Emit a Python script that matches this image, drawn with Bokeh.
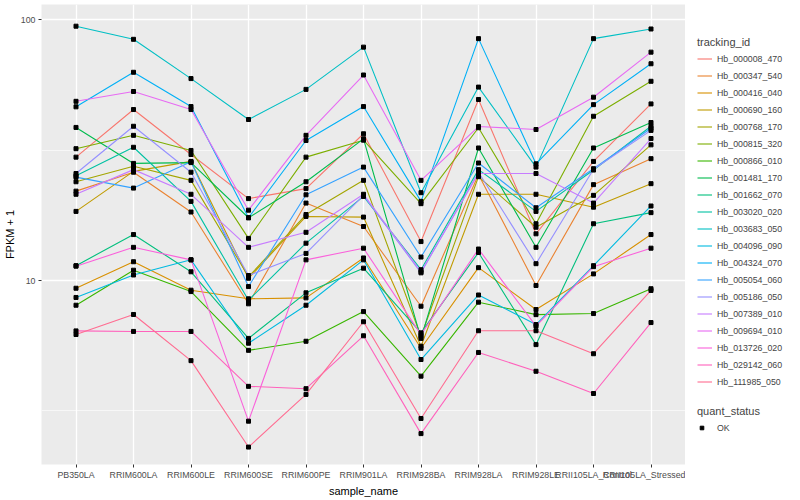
from bokeh.plotting import figure
from bokeh.layouts import row
from bokeh.models import (FactorRange, Range1d, FixedTicker, PrintfTickFormatter,
                          Legend, LegendItem, ColumnDataSource)
from bokeh.embed import file_html
from bokeh.resources import INLINE

samples = ["PB350LA", "RRIM600LA", "RRIM600LE", "RRIM600SE", "RRIM600PE", "RRIM901LA",
           "RRIM928BA", "RRIM928LA", "RRIM928LE", "RRII105LA_Control", "RRII105LA_Stressed"]

tracking_ids = ["Hb_000008_470", "Hb_000347_540", "Hb_000416_040", "Hb_000690_160",
                "Hb_000768_170", "Hb_000815_320", "Hb_000866_010", "Hb_001481_170",
                "Hb_001662_070", "Hb_003020_020", "Hb_003683_050", "Hb_004096_090",
                "Hb_004324_070", "Hb_005054_060", "Hb_005186_050", "Hb_007389_010",
                "Hb_009694_010", "Hb_013726_020", "Hb_029142_060", "Hb_111985_050"]

series_colors = ["#F8766D", "#EA8331", "#D89000", "#C09B00", "#A3A500", "#7CAE00", "#39B600",
                 "#00BB4E", "#00BF7D", "#00C1A3", "#00BFC4", "#00BAE0", "#00B0F6", "#35A2FF",
                 "#9590FF", "#C77CFF", "#E76BF3", "#FA62DB", "#FF62BC", "#FF6C91"]

# FPKM + 1 per sample (order of `samples`)
Hb_000008_470 = [29.7, 45.2, 30.4, 20.6, 22.5, 36.5, 14.1, 49.4, 15.1, 28.6, 47.5]
Hb_000347_540 = [22.0, 26.0, 18.3, 8.14, 19.8, 16.1, 7.97, 25.5, 9.57, 23.3, 29.3]
Hb_000416_040 = [9.34, 11.8, 9.18, 8.51, 8.58, 12.2, 5.5, 11.2, 7.74, 10.6, 15.0]
Hb_000690_160 = [18.4, 26.2, 28.6, 10.2, 17.6, 17.5, 5.6, 21.4, 21.4, 19.1, 23.5]
Hb_000768_170 = [23.9, 27.4, 24.2, 10.33, 17.9, 24.2, 6.1, 25.0, 16.0, 21.2, 33.1]
Hb_000815_320 = [32.0, 36.0, 31.5, 14.5, 29.7, 34.5, 19.7, 38.5, 16.5, 42.6, 58.0]
Hb_000866_010 = [8.04, 10.95, 9.07, 5.4, 5.85, 7.6, 4.3, 8.26, 7.4, 7.47, 9.3]
Hb_001481_170 = [38.6, 28.1, 28.3, 17.4, 23.9, 34.9, 6.0, 32.2, 13.4, 32.2, 40.3]
Hb_001662_070 = [11.4, 15.0, 10.8, 6.0, 8.97, 11.15, 6.3, 12.8, 5.68, 16.5, 18.2]
Hb_003020_020 = [25.2, 32.4, 20.1, 8.40, 13.9, 21.0, 11.0, 26.6, 18.4, 26.5, 39.0]
Hb_003683_050 = [94.3, 84.0, 59.4, 41.4, 54.0, 78.4, 21.7, 55.1, 27.2, 84.5, 92.0]
Hb_004096_090 = [8.61, 10.5, 12.0, 5.75, 8.04, 12.0, 4.98, 8.8, 6.78, 11.4, 19.3]
Hb_004324_070 = [46.3, 62.8, 46.4, 17.4, 34.4, 46.4, 20.1, 84.5, 28.0, 47.2, 67.7]
Hb_005054_060 = [24.9, 22.6, 28.5, 9.48, 21.3, 27.2, 12.3, 28.2, 19.0, 26.8, 38.3]
Hb_005186_050 = [25.7, 39.0, 26.0, 10.45, 12.7, 21.2, 10.7, 26.0, 11.6, 26.7, 37.6]
Hb_007389_010 = [21.4, 26.6, 21.4, 13.4, 15.3, 21.4, 10.8, 25.7, 25.7, 19.8, 35.0]
Hb_009694_010 = [48.6, 53.0, 45.2, 18.6, 36.0, 61.3, 24.2, 38.9, 37.9, 50.4, 75.0]
Hb_013726_020 = [11.35, 13.4, 12.0, 2.89, 12.0, 13.3, 6.2, 13.2, 6.69, 11.3, 13.3]
Hb_029142_060 = [6.41, 6.38, 6.38, 3.93, 3.85, 6.14, 2.59, 5.30, 4.49, 3.69, 6.9]
Hb_111985_050 = [6.21, 7.41, 4.93, 2.30, 3.66, 6.95, 2.96, 6.42, 6.42, 5.24, 9.16]

series_values = [Hb_000008_470, Hb_000347_540, Hb_000416_040, Hb_000690_160, Hb_000768_170,
                 Hb_000815_320, Hb_000866_010, Hb_001481_170, Hb_001662_070, Hb_003020_020,
                 Hb_003683_050, Hb_004096_090, Hb_004324_070, Hb_005054_060, Hb_005186_050,
                 Hb_007389_010, Hb_009694_010, Hb_013726_020, Hb_029142_060, Hb_111985_050]

y_ticks = [10, 100]
y_minor = [10 ** 0.5, 10 ** 1.5]

FONT = "Liberation Sans"
FIG_H = 495

p = figure(x_range=FactorRange(factors=samples, range_padding=0.1, range_padding_units="absolute"),
           y_range=Range1d(1.972, 114.2), y_axis_type="log",
           frame_width=644, frame_height=460,
           output_backend="svg", toolbar_location=None,
           min_border_left=0, min_border_right=0, min_border_top=4, min_border_bottom=0,
           background_fill_color="#EBEBEB", border_fill_color="white", outline_line_color=None)

ticker = FixedTicker(ticks=y_ticks, minor_ticks=y_minor)
p.yaxis.ticker = ticker
p.ygrid.ticker = ticker
p.yaxis.formatter = PrintfTickFormatter(format="%d")

for g in (p.xgrid, p.ygrid):
    g.grid_line_color = "white"
    g.grid_line_width = 1.3
p.ygrid.minor_grid_line_color = "white"
p.ygrid.minor_grid_line_width = 0.6

for ax in (p.xaxis, p.yaxis):
    ax.axis_line_color = None
    ax.major_tick_line_color = "#333333"
    ax.major_tick_out = 3
    ax.major_tick_in = 0
    ax.minor_tick_line_color = None
    ax.major_label_text_color = "#4D4D4D"
    ax.major_label_text_font = FONT
    ax.major_label_text_font_size = "8.8px"
    ax.major_label_standoff = 2
    ax.axis_label_text_font = FONT
    ax.axis_label_text_font_size = "11px"
    ax.axis_label_text_font_style = "normal"
    ax.axis_label_text_color = "black"
    ax.axis_label_standoff = 2
p.xaxis.axis_label = "sample_name"
p.yaxis.axis_label = "FPKM + 1"

for tid, col, vals in zip(tracking_ids, series_colors, series_values):
    p.line(x=samples, y=vals, line_color=col, line_width=1.1)

pt_x = [s for vals in series_values for s in samples]
pt_y = [v for vals in series_values for v in vals]
src = ColumnDataSource(dict(sample=pt_x, fpkm=pt_y, quant_status=["OK"] * len(pt_y)))
p.scatter("sample", "fpkm", source=src, marker="square", size=4,
          fill_color="black", line_color="black")

# legend panel (separate canvas so that legends are not clipped by the data frame)
q = figure(width=100, height=FIG_H - 1, x_axis_location=None, y_axis_location=None,
           x_range=Range1d(0, 1), y_range=Range1d(0, 1),
           toolbar_location=None, output_backend="svg", outline_line_color=None,
           min_border=0, background_fill_color="white", border_fill_color="white")
q.xgrid.visible = False
q.ygrid.visible = False

# off-range placeholders, only used to draw the legend keys
key_lines = [q.line(x=[-5, -4], y=[-5, -5], line_color=col, line_width=1.1) for col in series_colors]
key_pts = q.scatter(x=[-5], y=[-5], marker="square", size=4, fill_color="black", line_color="black")


def style_legend(lg, gw=15, gh=17, standoff=5):
    lg.title_text_font = FONT
    lg.title_text_font_size = "11px"
    lg.title_text_font_style = "normal"
    lg.title_standoff = 2
    lg.label_text_font = FONT
    lg.label_text_font_size = "8.8px"
    lg.label_standoff = standoff
    lg.glyph_width = gw
    lg.glyph_height = gh
    lg.label_height = 17
    lg.spacing = 0
    lg.padding = 0
    lg.margin = 0
    lg.border_line_color = None
    lg.background_fill_alpha = 0


leg1 = Legend(items=[LegendItem(label=t, renderers=[r]) for t, r in zip(tracking_ids, key_lines)],
              title="tracking_id", location=(12, 69))
style_legend(leg1)
q.add_layout(leg1)

leg2 = Legend(items=[LegendItem(label="OK", renderers=[key_pts])], title="quant_status",
              location=(12, 23))
style_legend(leg2, gw=9, gh=9, standoff=11)
q.add_layout(leg2)

page = row(p, q)
open("out.html", "w").write(file_html(page, INLINE))
